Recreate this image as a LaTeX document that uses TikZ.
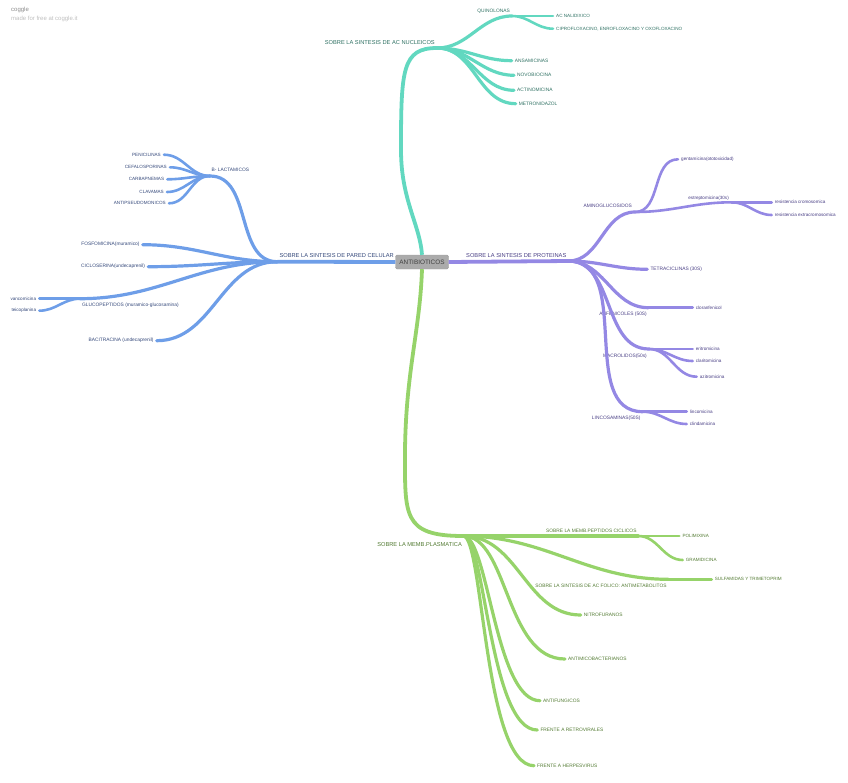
\documentclass[tikz,border=0pt]{standalone}
\usepackage{fontspec}
\setmainfont{Liberation Sans}
\usetikzlibrary{positioning}
\definecolor{nucline}{RGB}{98,216,192}
\definecolor{nuctext}{RGB}{46,112,98}
\definecolor{wallline}{RGB}{110,158,232}
\definecolor{walltext}{RGB}{52,72,122}
\definecolor{protline}{RGB}{148,136,228}
\definecolor{prottext}{RGB}{72,62,132}
\definecolor{membline}{RGB}{150,211,106}
\definecolor{membtext}{RGB}{82,122,50}
\tikzset{
  rootbox/.style={draw=black!38, fill=black!33, rounded corners=1.5pt, text=black!75,
    font=\fontsize{6.4}{7}\selectfont, minimum width=53pt, minimum height=14pt, inner sep=1pt},
  lab1/.style={font=\fontsize{5.7}{6}\selectfont, inner sep=0pt},
  lab2/.style={font=\fontsize{4.85}{5.5}\selectfont, inner sep=0pt},
  lab3/.style={font=\fontsize{4.6}{5}\selectfont, inner sep=0pt},
  leafr/.style={anchor=west, inner xsep=3pt, inner ysep=0.5pt},
  leafl/.style={anchor=east, inner xsep=3pt, inner ysep=0.5pt},
  nuctxt/.style={text=nuctext},
  walltxt/.style={text=walltext},
  prottxt/.style={text=prottext},
  membtxt/.style={text=membtext},
  trunk/.style={line width=3.8pt, line cap=butt},
  twig/.style={line width=3.2pt, line cap=round},
  leafline/.style={line width=2.6pt, line cap=round},
  sway/.style={out=0, in=180},
  swayl/.style={out=180, in=0},
}
\begin{document}
\begin{tikzpicture}[x=1pt, y=-1pt]
  \useasboundingbox (0,0) rectangle (848,782);
  % watermark
  \node[font=\fontsize{6}{7}\selectfont, text=black!45, anchor=west, inner sep=0pt] (cogg) at (11,10) {coggle};
  \node[font=\fontsize{6}{7}\selectfont, text=black!25, anchor=west, inner sep=0pt] (madefree) at (11,19.3) {made for free at coggle.it};
  % centre
  \node[rootbox] (root) at (422,262) {ANTIBIOTICOS};
  % acidos nucleicos
  \coordinate (nuc) at (437,48);
  \node[lab1, nuctxt, anchor=base east] (nuclab) at (435,44) {SOBRE LA SINTESIS DE AC NUCLEICOS};
  \coordinate (quin) at (512,16);
  \node[lab2, nuctxt, anchor=base east] (quinlab) at (510,12.5) {QUINOLONAS};
  \node[lab3, nuctxt, leafr] (nalid) at (553,16) {AC NALIDIXICO};
  \node[lab3, nuctxt, leafr] (cipro) at (553,28.7) {CIPROFLOXACINO, ENROFLOXACINO Y OXOFLOXACINO};
  \node[lab2, nuctxt, leafr] (ansam) at (511.7,60.7) {ANSAMICINAS};
  \node[lab2, nuctxt, leafr] (novob) at (514,75.3) {NOVOBIOCINA};
  \node[lab2, nuctxt, leafr] (actin) at (514,90.3) {ACTINOMICINA};
  \node[lab2, nuctxt, leafr] (metro) at (515.7,103.7) {METRONIDAZOL};
  % pared celular
  \coordinate (wall) at (277.3,261.7);
  \node[lab1, walltxt, anchor=base east] (walllab) at (394,257) {SOBRE LA SINTESIS DE PARED CELULAR};
  \coordinate (blact) at (210,176);
  \node[lab2, walltxt, anchor=base west] (blactlab) at (211.5,171.7) {B- LACTAMICOS};
  \node[lab3, walltxt, leafl] (penic) at (164,154.7) {PENICILINAS};
  \node[lab3, walltxt, leafl] (cefal) at (170,167.3) {CEFALOSPORINAS};
  \node[lab3, walltxt, leafl] (carba) at (167.3,179.3) {CARBAPNEMAS};
  \node[lab3, walltxt, leafl] (clava) at (167,192) {CLAVAMAS};
  \node[lab3, walltxt, leafl] (antips) at (169,203.3) {ANTIPSEUDOMONICOS};
  \node[lab2, walltxt, leafl] (fosfo) at (142.7,244.7) {FOSFOMICINA(muramico)};
  \node[lab2, walltxt, leafl] (ciclo) at (148.3,266.7) {CICLOSERINA(undecaprenil)};
  \coordinate (gluco) at (80,298.7);
  \node[lab2, walltxt, anchor=base west] (glucolab) at (82,306.5) {GLUCOPEPTIDOS (muramico-glucosamina)};
  \node[lab3, walltxt, leafl] (vanco) at (39.3,298.7) {vancomicina};
  \node[lab3, walltxt, leafl] (teico) at (39.3,310.7) {teicoplanina};
  \node[lab2, walltxt, leafl] (bacit) at (156.7,340.7) {BACITRACINA (undecaprenil)};
  % proteinas
  \coordinate (prot) at (568.3,261);
  \node[lab1, prottxt, anchor=base east] (protlab) at (566.5,257) {SOBRE LA SINTESIS DE PROTEINAS};
  \coordinate (amino) at (635,212);
  \node[lab2, prottxt, anchor=base east] (aminolab) at (632,207.7) {AMINOGLUCOSIDOS};
  \node[lab3, prottxt, leafr] (genta) at (678,159.3) {gentamicina(ototoxicidad)};
  \coordinate (estrep) at (731.7,202.3);
  \node[lab3, prottxt, anchor=base east] (estreplab) at (729,199) {estreptomicina(30s)};
  \node[lab3, prottxt, leafr] (cromo) at (771.7,202.3) {resistencia cromosomica};
  \node[lab3, prottxt, leafr] (extra) at (771.7,215) {resistencia extracromosomica};
  \node[lab2, prottxt, leafr] (tetra) at (647.3,269.3) {TETRACICLINAS (30S)};
  \coordinate (anfen) at (648.3,307.7);
  \node[lab2, prottxt, anchor=base east] (anfenlab) at (647,315.7) {ANFENICOLES (50S)};
  \node[lab3, prottxt, leafr] (clora) at (692.7,307.7) {cloranfenicol};
  \coordinate (macro) at (649,349);
  \node[lab2, prottxt, anchor=base east] (macrolab) at (647,357) {MACROLIDOS(50s)};
  \node[lab3, prottxt, leafr] (eritr) at (692.7,349) {eritromicina};
  \node[lab3, prottxt, leafr] (clari) at (692.7,361) {claritomicina};
  \node[lab3, prottxt, leafr] (azitr) at (696.7,376.7) {azitromicina};
  \coordinate (linco) at (642.7,411.7);
  \node[lab2, prottxt, anchor=base east] (lincolab) at (640.7,419.4) {LINCOSAMINAS(50S)};
  \node[lab3, prottxt, leafr] (lincm) at (686.7,411.7) {lincomicina};
  \node[lab3, prottxt, leafr] (clind) at (686.7,424) {clindamicina};
  % membrana
  \coordinate (memb) at (463.3,536);
  \node[lab1, membtxt, anchor=base east] (memblab) at (462,546) {SOBRE LA MEMB.PLASMATICA};
  \coordinate (pept) at (638.3,536);
  \node[lab2, membtxt, anchor=base east] (peptlab) at (636.7,532.4) {SOBRE LA MEMB.PEPTIDOS CICLICOS};
  \node[lab3, membtxt, leafr] (polim) at (679.3,536) {POLIMIXINA};
  \node[lab3, membtxt, leafr] (gramid) at (682.7,560) {GRAMIDICINA};
  \coordinate (folic) at (668.3,579.3);
  \node[lab2, membtxt, anchor=base east] (foliclab) at (666.7,587.4) {SOBRE LA SINTESIS DE AC FOLICO: ANTIMETABOLITOS};
  \node[lab3, membtxt, leafr] (sulfa) at (711.7,579.3) {SULFAMIDAS Y TRIMETOPRIM};
  \node[lab2, membtxt, leafr] (nitro) at (580.7,615) {NITROFURANOS};
  \node[lab2, membtxt, leafr] (antimic) at (565,659) {ANTIMICOBACTERIANOS};
  \node[lab2, membtxt, leafr] (antifung) at (540,700.7) {ANTIFUNGICOS};
  \node[lab2, membtxt, leafr] (retro) at (537.3,730) {FRENTE A RETROVIRALES};
  \node[lab2, membtxt, leafr] (herpes) at (534,765.7) {FRENTE A HERPESVIRUS};
  % branches
  \begin{scope}[nucline]
    \draw[trunk] (root.north) .. controls (420,225) and (401,200) .. (401,150) .. controls (401,70) and (402,48) .. (nuc);
    \draw[twig] (nuc) to[sway] (quin);
    \draw[leafline] (quin) -- (nalid.west);
    \draw[leafline] (quin) to[sway] (cipro.west);
    \foreach \n in {ansam,novob,actin,metro} \draw[twig] (nuc) to[sway] (\n.west);
  \end{scope}
  \begin{scope}[wallline]
    \draw[trunk] (root.west) -- (wall);
    \draw[twig] (wall) to[swayl] (blact);
    \foreach \n in {penic,cefal,carba,clava,antips} \draw[leafline] (blact) to[swayl] (\n.east);
    \foreach \n in {fosfo,ciclo,bacit} \draw[twig] (wall) to[swayl] (\n.east);
    \draw[twig] (wall) to[swayl] (gluco);
    \draw[leafline] (gluco) -- (vanco.east);
    \draw[leafline] (gluco) to[swayl] (teico.east);
  \end{scope}
  \begin{scope}[protline]
    \draw[trunk] (root.east) -- (prot);
    \draw[twig] (prot) to[sway] (amino);
    \draw[leafline] (amino) to[sway] (genta.west);
    \draw[leafline] (amino) to[sway] (estrep);
    \draw[leafline] (estrep) -- (cromo.west);
    \draw[leafline] (estrep) to[sway] (extra.west);
    \draw[twig] (prot) to[sway] (tetra.west);
    \foreach \n in {anfen,macro,linco} \draw[twig] (prot) to[sway] (\n);
    \draw[leafline] (anfen) -- (clora.west);
    \foreach \n in {eritr,clari,azitr} \draw[leafline] (macro) to[sway] (\n.west);
    \foreach \n in {lincm,clind} \draw[leafline] (linco) to[sway] (\n.west);
  \end{scope}
  \begin{scope}[membline]
    \draw[trunk] (root.south) .. controls (420,330) and (406,370) .. (405,450) .. controls (405,515) and (402,536) .. (memb);
    \draw[twig] (memb) -- (pept);
    \draw[leafline] (pept) -- (polim.west);
    \draw[leafline] (pept) to[sway] (gramid.west);
    \draw[twig] (memb) to[sway] (folic);
    \draw[leafline] (folic) -- (sulfa.west);
    \draw[twig] (memb) to[sway] (nitro.west);
    \draw[twig] (memb) .. controls +(45,0) and +(-60,0) .. (antimic.west);
    \draw[twig] (memb) .. controls +(25,0) and +(-45,0) .. (antifung.west);
    \draw[twig] (memb) .. controls +(22,0) and +(-48,0) .. (retro.west);
    \draw[twig] (memb) .. controls +(20,0) and +(-50,0) .. (herpes.west);
  \end{scope}
\end{tikzpicture}
\end{document}
